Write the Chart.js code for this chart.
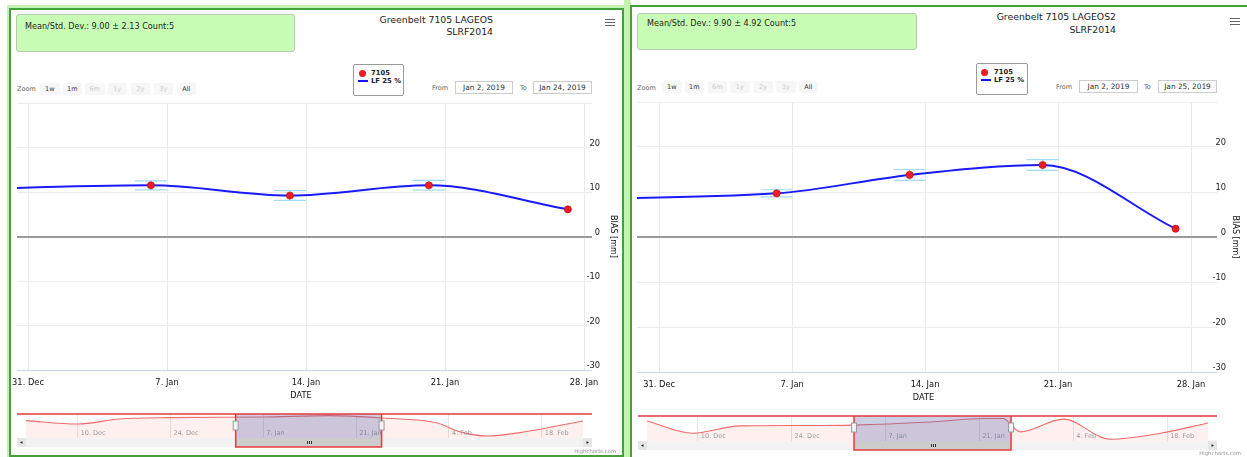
<!DOCTYPE html>
<html>
<head>
<meta charset="utf-8">
<title>Greenbelt 7105 bias</title>
<script src="https://cdn.jsdelivr.net/npm/chart.js@4.4.1/dist/chart.umd.min.js"></script>
<style>
  body { margin:0; width:1247px; height:457px; overflow:hidden; position:relative; background:#fff;
         font-family:"DejaVu Sans", Verdana, sans-serif; color:#222; }
  div, span, canvas { position:absolute; box-sizing:border-box; }
  .glow { background:#c4f2b0; }
  .frame { border:2px solid #45a03a; background:#fff; }
  .stats { background:#c8fdb5; border:1px solid #b7c9b0; border-radius:3px; font-size:8.1px; line-height:10px; white-space:nowrap; }
  .title { font-size:9.3px; line-height:12px; text-align:right; white-space:nowrap; }
  .burger { width:10px; height:1.6px; background:#666; }
  .legend { background:#fff; border:1px solid #999; border-radius:2px; }
  .legend .dot { width:7px; height:7px; border-radius:50%; background:#ee1c25; }
  .legend .ln { height:2px; background:#1414ff; }
  .legend span { font-size:6.8px; font-weight:bold; line-height:8px; white-space:nowrap; color:#222; }
  .zlabel { font-size:6.5px; color:#666; line-height:8px; white-space:nowrap; }
  .btn { height:12px; width:19.5px; background:#f7f7f7; border-radius:2px; font-size:6.5px; line-height:12px; text-align:center; color:#333; }
  .btn.off { color:#ccc; }
  .inp { height:13px; border:1px solid #ccc; font-size:7.4px; line-height:11px; text-align:center; color:#333; white-space:nowrap; }
  .credit { font-size:5.3px; line-height:6px; color:#999; white-space:nowrap; }
</style>
</head>
<body>

<!-- left panel : LAGEOS -->
<div class="glow" style="left:7px;top:5px;width:623px;height:452px"></div>
<div class="frame" style="left:9px;top:8px;width:615px;height:449px"></div>
<div class="stats" style="left:16px;top:14px;width:279px;height:38px;padding:6px 0 0 8px">Mean/Std. Dev.: 9.00 ± 2.13 Count:5</div>
<div class="title" style="right:754px;top:14px">Greenbelt 7105 LAGEOS<br>SLRF2014</div>
<div class="burger" style="left:605px;top:18.5px"></div>
<div class="burger" style="left:605px;top:21.5px"></div>
<div class="burger" style="left:605px;top:24.5px"></div>
<div class="legend" style="left:353px;top:64px;width:51px;height:32px">
  <div class="dot" style="left:5px;top:4.5px"></div><span style="left:17px;top:4px">7105</span>
  <div class="ln" style="left:4px;top:15px;width:10px"></div><span style="left:17px;top:12px">LF 25 %</span>
</div>
<span class="zlabel" style="left:17px;top:85px">Zoom</span>
<div class="btn" style="left:40px;top:83px">1w</div>
<div class="btn" style="left:62.5px;top:83px">1m</div>
<div class="btn off" style="left:85px;top:83px">6m</div>
<div class="btn off" style="left:107.5px;top:83px">1y</div>
<div class="btn off" style="left:130.5px;top:83px">2y</div>
<div class="btn off" style="left:153.5px;top:83px">3y</div>
<div class="btn" style="left:176.5px;top:83px">All</div>
<span class="zlabel" style="left:432px;top:84px">From</span>
<div class="inp" style="left:455px;top:81px;width:58px">Jan 2, 2019</div>
<span class="zlabel" style="left:520px;top:84px">To</span>
<div class="inp" style="left:533px;top:81px;width:59px">Jan 24, 2019</div>
<canvas id="mainL" width="612" height="305" style="left:10px;top:98px"></canvas>
<canvas id="navL" width="612" height="52" style="left:10px;top:405px"></canvas>
<span class="credit" style="right:631px;top:448px">Highcharts.com</span>

<!-- right panel : LAGEOS2 -->
<div class="glow" style="left:624px;top:0;width:7px;height:457px"></div>
<div class="frame" style="left:630px;top:5px;width:700px;height:470px"></div>
<div class="stats" style="left:637px;top:13px;width:280px;height:37px;padding:4px 0 0 9px">Mean/Std. Dev.: 9.90 ± 4.92 Count:5</div>
<div class="title" style="right:131px;top:11px;line-height:12.5px">Greenbelt 7105 LAGEOS2<br>SLRF2014</div>
<div class="burger" style="left:1230px;top:17.5px"></div>
<div class="burger" style="left:1230px;top:20.5px"></div>
<div class="burger" style="left:1230px;top:23.5px"></div>
<div class="legend" style="left:976px;top:63px;width:52px;height:32px">
  <div class="dot" style="left:4px;top:4.5px"></div><span style="left:17px;top:4px">7105</span>
  <div class="ln" style="left:4px;top:15px;width:10px"></div><span style="left:17px;top:12px">LF 25 %</span>
</div>
<span class="zlabel" style="left:637px;top:84px">Zoom</span>
<div class="btn" style="left:662px;top:81px">1w</div>
<div class="btn" style="left:684.5px;top:81px">1m</div>
<div class="btn off" style="left:707.5px;top:81px">6m</div>
<div class="btn off" style="left:730px;top:81px">1y</div>
<div class="btn off" style="left:753px;top:81px">2y</div>
<div class="btn off" style="left:776px;top:81px">3y</div>
<div class="btn" style="left:798.5px;top:81px">All</div>
<span class="zlabel" style="left:1056px;top:83px">From</span>
<div class="inp" style="left:1079px;top:80px;width:59px">Jan 2, 2019</div>
<span class="zlabel" style="left:1144px;top:83px">To</span>
<div class="inp" style="left:1158px;top:80px;width:59px">Jan 25, 2019</div>
<canvas id="mainR" width="615" height="308" style="left:632px;top:97px"></canvas>
<canvas id="navR" width="615" height="52" style="left:632px;top:405px"></canvas>
<span class="credit" style="right:6px;top:450px">Highcharts.com</span>

<script>
// x axis ticks
const mainTickDates = ['2018-12-31T00:00', '2019-01-07T00:00', '2019-01-14T00:00', '2019-01-21T00:00', '2019-01-28T00:00'];
const mainTickLabels = ['31. Dec', '7. Jan', '14. Jan', '21. Jan', '28. Jan'];
const navTickDates = ['2018-12-10T00:00', '2018-12-24T00:00', '2019-01-07T00:00', '2019-01-21T00:00', '2019-02-04T00:00', '2019-02-18T00:00'];
const navTickLabels = ['10. Dec', '24. Dec', '7. Jan', '21. Jan', '4. Feb', '18. Feb'];

// LAGEOS
const lageosDates = ['2019-01-06T04:30', '2019-01-13T04:30', '2019-01-20T04:30', '2019-01-27T04:30'];
const lageosBias = [11.5, 9.2, 11.5, 6.1];
const lageosErr = [1.0, 1.1, 1.1, null];
const lageosLfDates = ['2018-12-23T00:00', '2019-01-06T04:30', '2019-01-13T04:30', '2019-01-20T04:30', '2019-01-27T04:30'];
const lageosLf = [9.8, 11.5, 9.2, 11.5, 6.1];
const lageosNavDates = ['2018-12-02T05:00', '2018-12-10T00:00', '2018-12-16T07:00', '2018-12-23T22:00', '2019-01-06T22:00', '2019-01-17T00:00',
  '2019-01-24T22:00', '2019-02-02T05:00', '2019-02-05T14:00', '2019-02-09T17:00', '2019-02-14T17:00', '2019-02-24T05:00'];
const lageosNav = [8.7, 7.0, 9.5, 10.2, 10.5, 11.2, 10.0, 7.5, 3.2, 1.0, 2.7, 8.5];

// LAGEOS2
const lageos2Dates = ['2019-01-06T04:30', '2019-01-13T04:30', '2019-01-20T04:30', '2019-01-27T04:30'];
const lageos2Bias = [9.7, 13.8, 16.0, 1.85];
const lageos2Err = [0.8, 1.2, 1.2, null];
const lageos2LfDates = ['2018-12-23T00:00', '2019-01-06T04:30', '2019-01-13T04:30', '2019-01-20T04:30', '2019-01-27T04:30'];
const lageos2Lf = [8.35, 9.7, 13.8, 16.0, 1.85];
const lageos2NavDates = ['2018-12-02T10:00', '2018-12-09T06:00', '2018-12-16T07:00', '2018-12-25T05:00', '2019-01-02T07:00', '2019-01-13T14:00',
  '2019-01-21T19:00', '2019-01-24T12:00', '2019-01-27T02:00', '2019-02-02T12:00', '2019-02-09T12:00', '2019-02-17T00:00', '2019-02-24T02:00'];
const lageos2Nav = [13.6, 5.3, 10.3, 10.5, 10.8, 12.9, 15.3, 15.3, 6.2, 14.9, 1.2, 5.3, 12.2];

const t = s => Date.parse(s + ':00Z');
const xy = (dates, vals) => dates.map((d, i) => ({x: t(d), y: vals[i]}));
const FAMILY = '"DejaVu Sans", Verdana, sans-serif';
const font = (size, weight) => ({family: FAMILY, size: size, weight: weight || 'normal'});
// keep label overhang from pushing the plot area around
const noPad = s => { s.paddingTop = 0; s.paddingBottom = 0; s.paddingLeft = 0; s.paddingRight = 0; };

// light blue whiskers under the points
const errorCaps = {
  id: 'errorCaps',
  beforeDatasetsDraw(chart) {
    const ds = chart.data.datasets[0];
    const {ctx, scales: {x, y}} = chart;
    ctx.save();
    ctx.strokeStyle = '#a3dbf7';
    ctx.lineWidth = 1.2;
    ds.data.forEach((p, i) => {
      if (ds.errors[i] == null) return;
      const px = x.getPixelForValue(p.x);
      const top = y.getPixelForValue(p.y + ds.errors[i]);
      const bot = y.getPixelForValue(p.y - ds.errors[i]);
      ctx.beginPath();
      ctx.moveTo(px - 16, top); ctx.lineTo(px + 16, top);
      ctx.moveTo(px - 16, bot); ctx.lineTo(px + 16, bot);
      ctx.moveTo(px, top); ctx.lineTo(px, bot);
      ctx.stroke();
    });
    ctx.restore();
  }
};

// navigator labels, mask, outline, handles and scrollbar
const navChrome = {
  id: 'navChrome',
  afterDraw(chart, args, opts) {
    const {ctx, chartArea: a, scales: {x}} = chart;
    const ext = 9, sh = 9;
    const L = a.left - ext, R = a.right + ext, B = a.bottom;
    const m1 = x.getPixelForValue(t(opts.from)), m2 = x.getPixelForValue(t(opts.to));
    ctx.save();
    ctx.font = '6.5px ' + FAMILY;
    ctx.fillStyle = '#999';
    ctx.textBaseline = 'middle';
    x.ticks.forEach((tk, i) => ctx.fillText(navTickLabels[i], x.getPixelForValue(tk.value) + 3, B - 5));
    ctx.fillStyle = '#f2f2f2';
    ctx.fillRect(L, B, R - L, sh);
    ctx.fillStyle = '#e6e6e6';
    ctx.fillRect(L, B, ext, sh);
    ctx.fillRect(a.right, B, ext, sh);
    ctx.fillStyle = '#333';
    ctx.beginPath();
    ctx.moveTo(L + 3, B + 4.5); ctx.lineTo(L + 5.5, B + 3); ctx.lineTo(L + 5.5, B + 6); ctx.closePath();
    ctx.moveTo(R - 3, B + 4.5); ctx.lineTo(R - 5.5, B + 3); ctx.lineTo(R - 5.5, B + 6); ctx.closePath();
    ctx.fill();
    ctx.fillStyle = '#cccccc';
    ctx.fillRect(m1, B, m2 - m1, sh);
    ctx.fillStyle = '#333';
    const mid = Math.round((m1 + m2) / 2);
    [-2, 0, 2].forEach(d => ctx.fillRect(mid + d, B + 3, 1, 3));
    ctx.fillStyle = 'rgba(90,100,170,0.3)';
    ctx.fillRect(m1, a.top, m2 - m1, B - a.top);
    ctx.strokeStyle = '#e8383d';
    ctx.lineWidth = 1.5;
    ctx.beginPath();
    ctx.moveTo(L, a.top); ctx.lineTo(R, a.top);
    ctx.rect(m1, a.top, m2 - m1, B + sh - a.top);
    ctx.stroke();
    ctx.lineWidth = 1;
    ctx.strokeStyle = '#999';
    ctx.fillStyle = '#f2f2f2';
    [m1, m2].forEach(h => {
      ctx.fillRect(h - 2.5, a.top + 7, 5, 9);
      ctx.strokeRect(h - 2.5, a.top + 7, 5, 9);
    });
    ctx.restore();
  }
};

function drawMain(id, p) {
  return new Chart(document.getElementById(id), {
    type: 'line',
    data: {
      datasets: [
        {label: '7105', data: xy(p.dates, p.bias), errors: p.err, showLine: false,
         pointRadius: 3.6, pointBackgroundColor: '#ee1c25', pointBorderColor: '#b80d14', pointBorderWidth: 0.6, order: 0},
        {label: 'LF 25 %', data: xy(p.lfDates, p.lf), borderColor: '#1a1aff', borderWidth: 2,
         pointRadius: 0, cubicInterpolationMode: 'monotone', fill: false, order: 1}
      ]
    },
    options: {
      responsive: false, animation: false, devicePixelRatio: 1,
      layout: {padding: p.pad},
      plugins: {legend: {display: false}, tooltip: {enabled: false}},
      scales: {
        x: {
          type: 'linear', min: t(p.xMin), max: t(p.xMax),
          afterBuildTicks: s => { s.ticks = mainTickDates.map(d => ({value: t(d)})); },
          afterFit: s => { s.height = 33; noPad(s); },
          ticks: {callback: (v, i) => mainTickLabels[i], autoSkip: false, maxRotation: 0, padding: 7.5, color: '#111', font: font(8.3)},
          grid: {color: '#e9e9e9', drawTicks: false},
          border: {color: '#ccd6eb'},
          title: {display: true, text: 'DATE', color: '#111', font: font(8.2), padding: {top: 0, bottom: 2.5}}
        },
        y: {
          position: 'right', min: -30, max: 30,
          afterFit: s => { s.width = p.yWidth; noPad(s); },
          ticks: {stepSize: 10, callback: v => v === 30 ? '' : v, crossAlign: 'far', labelOffset: -4, color: '#222', font: font(8.3)},
          grid: {
            tickLength: 7,
            color: c => c.tick.value === 0 ? '#999' : (c.tick.value === -30 ? '#ccd6eb' : '#ececec'),
            lineWidth: c => c.tick.value === 0 ? 2 : 1
          },
          border: {display: false},
          title: {display: true, text: 'BIAS [mm]', color: '#111', font: font(8), padding: {top: p.titlePad, bottom: 0}}
        }
      }
    },
    plugins: [errorCaps]
  });
}

function drawNav(id, p) {
  return new Chart(document.getElementById(id), {
    type: 'line',
    data: {
      datasets: [{data: xy(p.dates, p.values), borderColor: '#ef6a6a', borderWidth: 1.1, pointRadius: 0,
        cubicInterpolationMode: 'monotone', fill: 'start', backgroundColor: 'rgba(255,0,0,0.06)'}]
    },
    options: {
      responsive: false, animation: false, devicePixelRatio: 1,
      layout: {padding: p.pad},
      plugins: {legend: {display: false}, tooltip: {enabled: false}, navChrome: {from: p.from, to: p.to}},
      scales: {
        x: {
          type: 'linear', min: t(p.dates[0]), max: t(p.dates[p.dates.length - 1]),
          afterBuildTicks: s => { s.ticks = navTickDates.map(d => ({value: t(d)})); },
          afterFit: s => { s.height = 0; noPad(s); },
          ticks: {display: false},
          grid: {color: '#e6e6e6', drawTicks: false},
          border: {display: false}
        },
        y: {display: false, min: p.yMin, max: p.yMax}
      }
    },
    plugins: [navChrome]
  });
}

drawMain('mainL', {dates: lageosDates, bias: lageosBias, err: lageosErr, lfDates: lageosLfDates, lf: lageosLf,
  xMin: '2018-12-30T10:40', xMax: '2019-01-28T01:12', pad: {left: 7, top: 5, right: 22, bottom: 0}, yWidth: 15, titlePad: -17.8});
drawMain('mainR', {dates: lageos2Dates, bias: lageos2Bias, err: lageos2Err, lfDates: lageos2LfDates, lf: lageos2Lf,
  xMin: '2018-12-29T20:00', xMax: '2019-01-29T00:00', pad: {left: 5, top: 5, right: 21, bottom: 0}, yWidth: 16, titlePad: -13.8});
drawNav('navL', {dates: lageosNavDates, values: lageosNav, yMin: 0, yMax: 12,
  from: '2019-01-02T20:00', to: '2019-01-24T20:00', pad: {left: 16, right: 39, top: 9, bottom: 19}});
drawNav('navR', {dates: lageos2NavDates, values: lageos2Nav, yMin: 0, yMax: 17,
  from: '2019-01-02T07:00', to: '2019-01-25T17:00', pad: {left: 15, right: 39, top: 11, bottom: 16}});
</script>
</body>
</html>
